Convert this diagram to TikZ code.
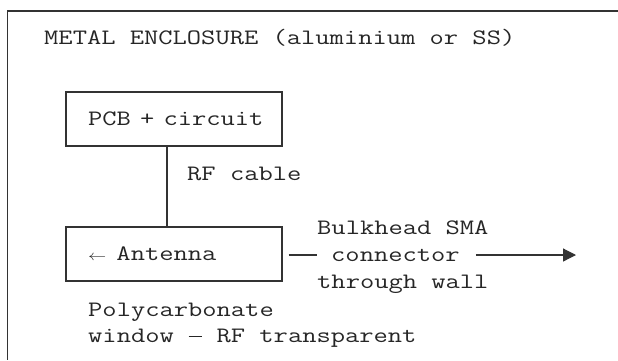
\documentclass[tikz,border=0pt]{standalone}
\usepackage{fontspec}
\usepackage{graphicx}
\newcommand\sx[1]{\scalebox{1.26}[1]{#1}}
\newcommand\leftarr{{\fontsize{15pt}{15pt}\selectfont$\leftarrow$}}
\newcommand\mdash{\makebox[11.3pt]{\rule[5.2pt]{10.4pt}{1pt}}}
\usetikzlibrary{arrows.meta}
\begin{document}
\begin{tikzpicture}[x=1pt,y=-1pt,
  ink/.style={draw=black!80, line width=1.2pt},
  txtfont/.style={font=\fontsize{22pt}{27pt}\selectfont\ttfamily, text=black!85},
  lbl/.style={txtfont, inner sep=0pt, anchor=base west},
  boxnode/.style={ink, txtfont, minimum width=216pt, minimum height=54pt,
    text width=216pt, inner xsep=0pt, inner ysep=0pt, align=left,
    text height=13pt, text depth=0pt}
]
\useasboundingbox (0,0) rectangle (618,360);
\fill[white] (0,0) rectangle (618,360);

% enclosure wall
\coordinate (encTR) at (618,11);
\coordinate (encTL) at (7.3,11);
\coordinate (encBL) at (7.3,360);
\draw[ink] (encTR) -- (encTL) -- (encBL);

% boxes
\node[boxnode] (pcb) at (174,119) {\noindent\hspace*{22pt}\sx{PCB + circuit}};
\node[boxnode] (ant) at (174,254) {\noindent\hspace*{22pt}\sx{\makebox[11.3pt][l]{\leftarr}\hspace{11.3pt}Antenna}};

% labels
\node[lbl] (title) at (44,44) {\sx{METAL ENCLOSURE (aluminium or SS)}};
\node[lbl] (rf) at (187,180) {\sx{RF cable}};
\node[lbl] (bulk) at (317,234) {\sx{Bulkhead SMA}};
\node[lbl] (conn) at (331,261) {\sx{connector}};
\node[lbl] (thru) at (317,288) {\sx{through wall}};
\node[lbl] (poly) at (88,316) {\sx{Polycarbonate}};
\node[lbl] (win) at (88,342) {\sx{window \mdash{} RF transparent}};

% connectors
\coordinate (cabx) at (167,0);
\draw[ink] (pcb.south -| cabx) -- (ant.north -| cabx);
\coordinate (wirey) at (0,255);
\draw[ink, shorten <=6pt, shorten >=14pt] (ant.east |- wirey) -- (conn.west |- wirey);
\coordinate (tip) at (576,255);
\draw[ink, -{Triangle[length=13pt,width=13pt]}, shorten <=16pt] (conn.east |- wirey) -- (tip);
\end{tikzpicture}
\end{document}
